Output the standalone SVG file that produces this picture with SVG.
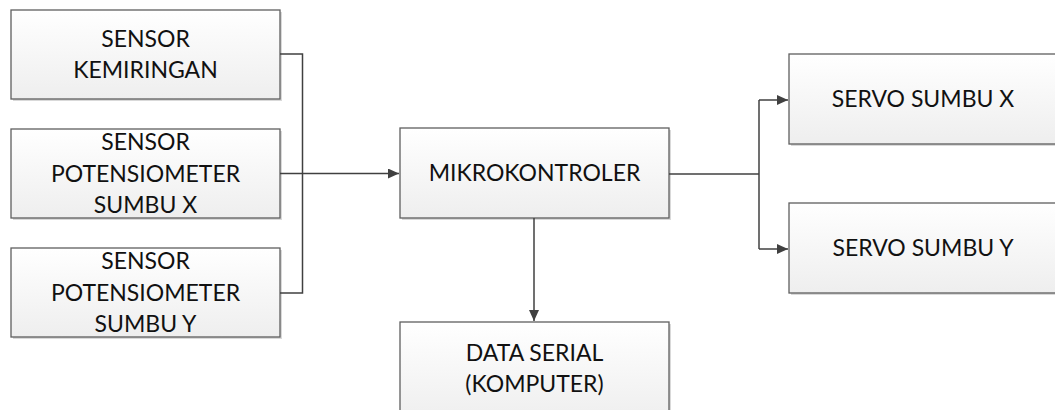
<svg xmlns="http://www.w3.org/2000/svg" width="1055" height="410" viewBox="0 0 1055 410">
<style>
.box{fill:url(#g);stroke:#5f5f5f;stroke-width:1.3}
.sh{fill:#d9d9d9}
.t{font-family:Lato,"Liberation Sans",Arial,sans-serif;font-size:23px;fill:#111;text-anchor:middle}
.c{fill:none;stroke:#404040;stroke-width:1.5}
</style>
<defs>
<linearGradient id="g" x1="0" y1="0" x2="0" y2="1">
<stop offset="0" stop-color="#ffffff"/>
<stop offset="1" stop-color="#eeeeee"/>
</linearGradient>
<marker id="a" markerWidth="12" markerHeight="10" refX="11" refY="5" orient="auto" markerUnits="userSpaceOnUse">
<path d="M0,0 L11,5 L0,10 Z" fill="#404040"/>
</marker>
</defs>
<rect width="1055" height="410" fill="#fff"/>
<g id="sensor-kemiringan">
<rect class="sh" x="13" y="12" width="269" height="89"/>
<rect class="box" x="11" y="10" width="269" height="89"/>
<text class="t" x="145.5" y="46.5">SENSOR</text>
<text class="t" x="145.5" y="78">KEMIRINGAN</text>
</g>
<g id="sensor-pot-x">
<rect class="sh" x="13" y="131" width="269" height="89"/>
<rect class="box" x="11" y="129" width="269" height="89"/>
<text class="t" x="145.5" y="150">SENSOR</text>
<text class="t" x="145.5" y="181.5">POTENSIOMETER</text>
<text class="t" x="145.5" y="212.5">SUMBU X</text>
</g>
<g id="sensor-pot-y">
<rect class="sh" x="13" y="250" width="269" height="89"/>
<rect class="box" x="11" y="248" width="269" height="89"/>
<text class="t" x="145.5" y="269">SENSOR</text>
<text class="t" x="145.5" y="300.5">POTENSIOMETER</text>
<text class="t" x="145.5" y="332">SUMBU Y</text>
</g>
<g id="mikrokontroler">
<rect class="sh" x="402" y="130" width="269" height="90"/>
<rect class="box" x="400" y="128" width="269" height="90"/>
<text class="t" x="534.5" y="181">MIKROKONTROLER</text>
</g>
<g id="servo-x">
<rect class="sh" x="791" y="56" width="280" height="90"/>
<rect class="box" x="789" y="54" width="280" height="90"/>
<text class="t" x="923" y="106.5">SERVO SUMBU X</text>
</g>
<g id="servo-y">
<rect class="sh" x="791" y="205" width="280" height="90"/>
<rect class="box" x="789" y="203" width="280" height="90"/>
<text class="t" x="923" y="256">SERVO SUMBU Y</text>
</g>
<g id="data-serial">
<rect class="sh" x="402" y="324" width="269" height="100"/>
<rect class="box" x="400" y="322" width="269" height="100"/>
<text class="t" x="534.5" y="361">DATA SERIAL</text>
<text class="t" x="534.5" y="392">(KOMPUTER)</text>
</g>
<g id="connectors">
<path class="c" d="M280,54 H302.5 V293 H280"/>
<path class="c" d="M280,173.5 H399" marker-end="url(#a)"/>
<path class="c" d="M669,174 H759"/>
<path class="c" d="M759,100 V249"/>
<path class="c" d="M759,100 H788" marker-end="url(#a)"/>
<path class="c" d="M759,249 H788" marker-end="url(#a)"/>
<path class="c" d="M534,218 V321" marker-end="url(#a)"/>
</g>
</svg>
